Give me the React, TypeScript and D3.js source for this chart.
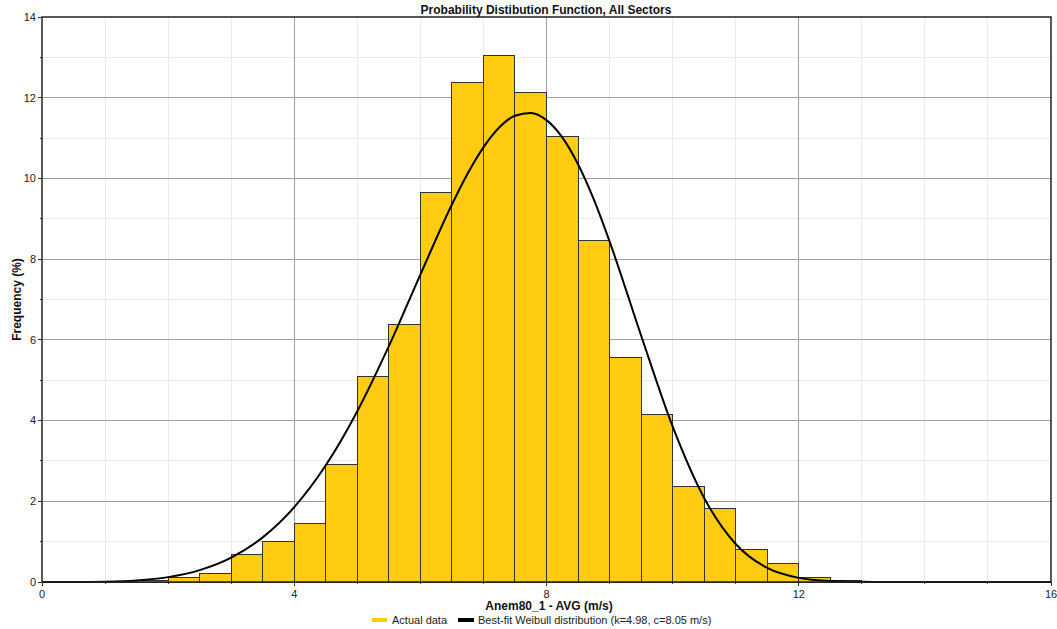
import * as d3 from "d3";

// histogram bins (start of each 0.5 m/s bin) and frequency in %
const binStart = [1.0, 1.5, 2.0, 2.5, 3.0, 3.5, 4.0, 4.5, 5.0, 5.5, 6.0, 6.5, 7.0, 7.5, 8.0, 8.5, 9.0, 9.5, 10.0, 10.5, 11.0, 11.5, 12.0, 12.5, 13.0];
const freq = [0.01, 0.04, 0.1, 0.2, 0.67, 1.0, 1.44, 2.92, 5.09, 6.38, 9.65, 12.37, 13.05, 12.12, 11.04, 8.46, 5.57, 4.14, 2.37, 1.82, 0.8, 0.45, 0.12, 0.03, 0.02];
const binWidth = 0.5;

// best-fit Weibull curve points
const fitSpeed = [0, 0.5, 1, 1.5, 2, 2.5, 3, 3.5, 4, 4.5, 5, 5.5, 6, 6.5, 6.75, 7, 7.25, 7.5, 7.75, 8, 8.25, 8.5, 8.75, 9, 9.5, 10, 10.5, 11, 11.5, 12, 12.5, 13, 13.5, 14, 14.5, 15, 15.5, 16];
const fitFreq = [0, 0.0005, 0.008, 0.038, 0.121, 0.294, 0.604, 1.106, 1.854, 2.892, 4.233, 5.844, 7.618, 9.354, 10.123, 10.771, 11.262, 11.554, 11.622, 11.444, 11.017, 10.351, 9.478, 8.439, 6.108, 3.855, 2.082, 0.942, 0.348, 0.102, 0.023, 0.004, 0, 0, 0, 0, 0, 0];

const xTicks = [0, 4, 8, 12, 16];
const yTicks = [0, 2, 4, 6, 8, 10, 12, 14];

const font = "'Liberation Sans', Arial, sans-serif";

export default function App() {
  const width = 1057;
  const height = 629;
  const left = 42, right = 1051, top = 17, bottom = 582;

  const x = d3.scaleLinear().domain([0, 16]).range([left, right]);
  const y = d3.scaleLinear().domain([0, 14]).range([bottom, top]);

  const line = d3
    .line<number>()
    .x((d, i) => x(fitSpeed[i]))
    .y((d) => y(d))
    .curve(d3.curveMonotoneX);

  const minorX = d3.range(0, 17).filter((v) => v % 4 !== 0);
  const minorY = d3.range(1, 14, 2);

  return (
    <svg
      width={width}
      height={height}
      style={{ position: "absolute", left: 0, top: 0, background: "#fff" }}
      fontFamily={font}
    >
      {/* minor grid */}
      <g stroke="#ebebeb" strokeWidth={1} shapeRendering="crispEdges">
        {minorX.map((v) => (
          <line key={"mx" + v} x1={x(v)} x2={x(v)} y1={top} y2={bottom} />
        ))}
        {minorY.map((v) => (
          <line key={"my" + v} x1={left} x2={right} y1={y(v)} y2={y(v)} />
        ))}
      </g>
      {/* major grid */}
      <g stroke="#a0a0a0" strokeWidth={1} shapeRendering="crispEdges">
        {xTicks.slice(1, -1).map((v) => (
          <line key={"gx" + v} x1={x(v)} x2={x(v)} y1={top} y2={bottom} />
        ))}
        {yTicks.slice(1, -1).map((v) => (
          <line key={"gy" + v} x1={left} x2={right} y1={y(v)} y2={y(v)} />
        ))}
      </g>

      {/* bars */}
      <g fill="#ffcc11" stroke="#333" strokeWidth={1} shapeRendering="crispEdges">
        {binStart.map((b, i) => (
          <rect
            key={b}
            x={x(b)}
            y={y(freq[i])}
            width={x(b + binWidth) - x(b)}
            height={y(0) - y(freq[i])}
          />
        ))}
      </g>

      {/* weibull fit */}
      <path d={line(fitFreq) || ""} fill="none" stroke="#000" strokeWidth={2} />

      {/* frame */}
      <rect
        x={left}
        y={top}
        width={right - left}
        height={bottom - top}
        fill="none"
        stroke="#222"
        strokeWidth={1.5}
      />

      {/* y axis ticks */}
      <g stroke="#333" shapeRendering="crispEdges">
        {yTicks.map((v) => (
          <line key={"yt" + v} x1={left - 4} x2={left} y1={y(v)} y2={y(v)} />
        ))}
        {minorY.map((v) => (
          <line key={"ymt" + v} x1={left - 2} x2={left} y1={y(v)} y2={y(v)} />
        ))}
        {xTicks.map((v) => (
          <line key={"xt" + v} x1={x(v)} x2={x(v)} y1={bottom} y2={bottom + 4} />
        ))}
        {minorX.map((v) => (
          <line key={"xmt" + v} x1={x(v)} x2={x(v)} y1={bottom} y2={bottom + 2} />
        ))}
      </g>
      <g fontSize={11} fill="#222">
        {yTicks.map((v) => (
          <text key={"yl" + v} x={left - 6} y={y(v)} dy="0.35em" textAnchor="end">
            {v}
          </text>
        ))}
        {xTicks.map((v) => (
          <text key={"xl" + v} x={x(v)} y={bottom + 16} textAnchor="middle">
            {v}
          </text>
        ))}
      </g>

      {/* titles */}
      <text x={546} y={14} textAnchor="middle" fontSize={12} fontWeight="bold" fill="#111">
        Probability Distibution Function, All Sectors
      </text>
      <text x={549} y={610} textAnchor="middle" fontSize={12} fontWeight="bold" fill="#111">
        Anem80_1 - AVG (m/s)
      </text>
      <text
        transform={`translate(21,${(top + bottom) / 2}) rotate(-90)`}
        textAnchor="middle"
        fontSize={12}
        fontWeight="bold"
        fill="#111"
      >
        Frequency (%)
      </text>

      {/* legend */}
      <g fontSize={11} fill="#222">
        <rect x={372} y={618} width={15} height={4} fill="#ffcc11" />
        <text x={392} y={624}>Actual data</text>
        <rect x={458} y={618} width={16} height={4} fill="#000" />
        <text x={478} y={624}>Best-fit Weibull distribution (k=4.98, c=8.05 m/s)</text>
      </g>
    </svg>
  );
}
